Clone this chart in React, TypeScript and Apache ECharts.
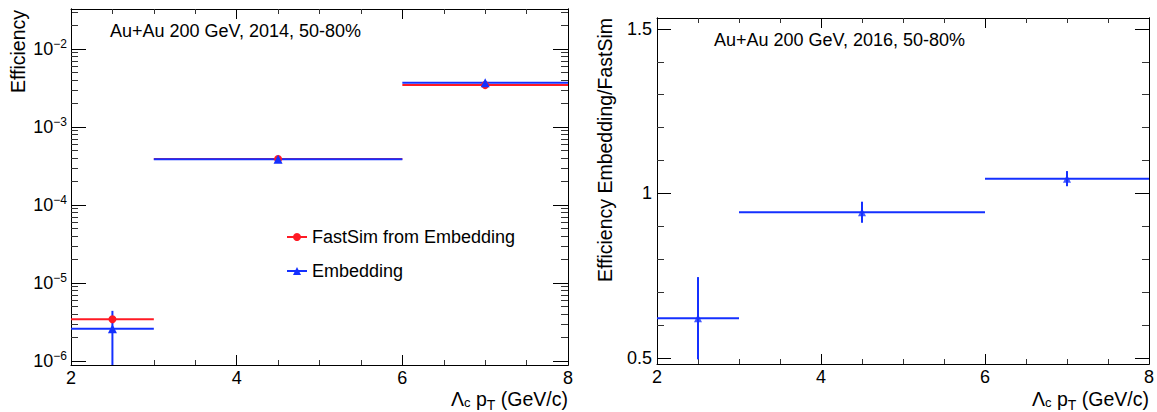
import React, { useEffect, useRef } from 'react';
import * as echarts from 'echarts';

// ---- data ----
const binLow = [2, 3, 6];
const binHigh = [3, 6, 8];
const binCenter = [2.5, 4.5, 7];
const fastSim = [3.43e-6, 3.9e-4, 3.45e-3];
const fastSimErr = [0.12e-6, 0.6e-5, 0.5e-4];
const embedding = [2.6e-6, 3.85e-4, 3.7e-3];
const embeddingErr = [1.8e-6, 1.5e-5, 1.0e-4];
const ratio = [0.621, 0.943, 1.045];
const ratioErr = [0.125, 0.032, 0.023];

// ---- tick values ----
const xMajor = [2, 4, 6, 8];
const leftYMajor = [1e-6, 1e-5, 1e-4, 1e-3, 1e-2];
const leftYMinor = [
  2e-6, 3e-6, 4e-6, 5e-6, 6e-6, 7e-6, 8e-6, 9e-6,
  2e-5, 3e-5, 4e-5, 5e-5, 6e-5, 7e-5, 8e-5, 9e-5,
  2e-4, 3e-4, 4e-4, 5e-4, 6e-4, 7e-4, 8e-4, 9e-4,
  2e-3, 3e-3, 4e-3, 5e-3, 6e-3, 7e-3, 8e-3, 9e-3,
  2e-2, 3e-2,
];
const rightYMajor = [0.5, 1, 1.5];
const rightYMinor = [0.6, 0.7, 0.8, 0.9, 1.1, 1.2, 1.3, 1.4];

const leftYMin = 8.9e-7;
const leftYMax = 3.26e-2;
const rightYMin = 0.482;
const rightYMax = 1.533;

const RED = '#ff1a24';
const BLUE = '#1430ff';
const FONT = '"Liberation Sans", Arial, Helvetica, sans-serif';

const supLabel = (v: number) => {
  const e = Math.round(Math.log10(v));
  return '10{s|' + (e < 0 ? '\u2212' + Math.abs(e) : String(e)) + '}';
};

function errRender(color: string) {
  return (params: any, api: any) => {
    const cs = params.coordSys;
    const lo = api.value(0);
    const hi = api.value(1);
    const c = api.value(2);
    const v = api.value(3);
    const e = api.value(4);
    const p1 = api.coord([lo, v]);
    const p2 = api.coord([hi, v]);
    const top = api.coord([c, v + e]);
    const bv = v - e;
    const bot = bv > 0 ? api.coord([c, bv]) : [top[0], cs.y + cs.height];
    const cl = (y: number) => Math.max(cs.y, Math.min(cs.y + cs.height, isFinite(y) ? y : cs.y + cs.height));
    return {
      type: 'group',
      children: [
        { type: 'line', shape: { x1: p1[0], y1: p1[1], x2: p2[0], y2: p2[1] }, style: { stroke: color, lineWidth: 2 } },
        { type: 'line', shape: { x1: top[0], y1: cl(top[1]), x2: top[0], y2: cl(bot[1]) }, style: { stroke: color, lineWidth: 2 } },
      ],
    };
  };
}

const errData = (vals: number[], errs: number[]) =>
  vals.map((v, i) => [binLow[i], binHigh[i], binCenter[i], v, errs[i]]);
const ptData = (vals: number[]) => vals.map((v, i) => [binCenter[i], v]);

function xAxes(gridIndex: number) {
  const base = {
    type: 'value',
    gridIndex,
    min: 2,
    max: 8,
    interval: 2,
    splitLine: { show: false },
    axisLine: { show: true, onZero: false, lineStyle: { color: '#000', width: 1 } },
    axisTick: { show: true, inside: true, length: 10, lineStyle: { color: '#000' } },
    minorTick: { show: true, splitNumber: 4, length: 5, lineStyle: { color: '#333' } },
  };
  return [
    { ...base, position: 'bottom', axisLabel: { show: true, fontSize: 18, color: '#000', fontFamily: FONT, margin: 4, customValues: xMajor } },
    { ...base, position: 'top', axisLabel: { show: false } },
  ];
}

function yAxes(gridIndex: number, type: string, min: number, max: number, major: number[], minor: number[], majorLen: number, minorLen: number, label: any) {
  const common = {
    type,
    gridIndex,
    min,
    max,
    splitLine: { show: false },
    axisLine: { show: true, onZero: false, lineStyle: { color: '#000', width: 1 } },
  };
  return [
    { ...common, position: 'left', axisTick: { show: true, inside: true, length: majorLen, customValues: major, lineStyle: { color: '#000' } }, axisLabel: label },
    { ...common, position: 'left', axisTick: { show: true, inside: true, length: minorLen, customValues: minor, lineStyle: { color: '#333' } }, axisLabel: { show: false } },
    { ...common, position: 'right', axisTick: { show: true, inside: true, length: majorLen, customValues: major, lineStyle: { color: '#000' } }, axisLabel: { show: false } },
    { ...common, position: 'right', axisTick: { show: true, inside: true, length: minorLen, customValues: minor, lineStyle: { color: '#333' } }, axisLabel: { show: false } },
  ];
}

const xTitleStyle = {
  text: '\u039b{c|c} p{t|T} (GeV/c)',
  fontSize: 19.5,
  lineHeight: 20,
  fill: '#000',
  fontFamily: FONT,
  align: 'right',
  verticalAlign: 'middle',
  rich: {
    c: { fontSize: 13, lineHeight: 13, padding: [7, 0, 0, 0], fill: '#000', fontFamily: FONT },
    t: { fontSize: 14, lineHeight: 14, padding: [12, 0, 0, 0], fill: '#000', fontFamily: FONT },
  },
};

export default function App() {
  const ref = useRef<HTMLDivElement>(null);
  useEffect(() => {
    if (!ref.current) return;
    const chart = echarts.init(ref.current, null, { renderer: 'svg' });
    const option: any = {
      animation: false,
      backgroundColor: '#fff',
      textStyle: { fontFamily: FONT },
      grid: [
        { left: 71, top: 9, width: 497, height: 356 },
        { left: 657, top: 18, width: 492, height: 346 },
      ],
      xAxis: [...xAxes(0), ...xAxes(1)],
      yAxis: [
        ...yAxes(0, 'log', leftYMin, leftYMax, leftYMajor, leftYMinor, 15, 7, {
          show: true,
          customValues: leftYMajor,
          formatter: supLabel,
          fontSize: 18,
          color: '#000',
          fontFamily: FONT,
          margin: 4,
          rich: {
            s: { fontSize: 12, padding: [0, 0, 10, 0], color: '#000', fontFamily: FONT },
          },
        }),
        ...yAxes(1, 'value', rightYMin, rightYMax, rightYMajor, rightYMinor, 14, 7, {
          show: true,
          customValues: rightYMajor,
          fontSize: 18,
          color: '#000',
          fontFamily: FONT,
          margin: 5,
        }),
      ],
      legend: {
        data: ['FastSim from Embedding', 'Embedding'],
        orient: 'vertical',
        left: 281,
        top: 223,
        itemWidth: 20,
        itemHeight: 10,
        itemGap: 16,
        textStyle: { fontSize: 18, color: '#000', fontFamily: FONT },
        lineStyle: { width: 2, opacity: 1 },
      },
      series: [
        {
          name: 'FastSim from Embedding err', type: 'custom', xAxisIndex: 0, yAxisIndex: 0,
          renderItem: errRender(RED), data: errData(fastSim, fastSimErr), encode: { x: 2, y: 3 }, z: 2,
        },
        {
          name: 'Embedding err', type: 'custom', xAxisIndex: 0, yAxisIndex: 0,
          renderItem: errRender(BLUE), data: errData(embedding, embeddingErr), encode: { x: 2, y: 3 }, z: 3,
        },
        {
          name: 'FastSim from Embedding', type: 'line', xAxisIndex: 0, yAxisIndex: 0,
          data: ptData(fastSim), symbol: 'circle', symbolSize: 8, showSymbol: true,
          itemStyle: { color: RED }, lineStyle: { width: 0, opacity: 0, color: RED }, z: 4,
        },
        {
          name: 'Embedding', type: 'line', xAxisIndex: 0, yAxisIndex: 0,
          data: ptData(embedding), symbol: 'triangle', symbolSize: 9, showSymbol: true,
          itemStyle: { color: BLUE }, lineStyle: { width: 0, opacity: 0, color: BLUE }, z: 5,
        },
        {
          name: 'ratio err', type: 'custom', xAxisIndex: 2, yAxisIndex: 4,
          renderItem: errRender(BLUE), data: errData(ratio, ratioErr), encode: { x: 2, y: 3 }, z: 3,
        },
        {
          name: 'ratio', type: 'scatter', xAxisIndex: 2, yAxisIndex: 4,
          data: ptData(ratio), symbol: 'triangle', symbolSize: 8,
          itemStyle: { color: BLUE }, z: 5,
        },
      ],
      graphic: [
        { type: 'text', x: 110, y: 31, style: { text: 'Au+Au 200 GeV, 2014, 50-80%', fontSize: 18, fill: '#000', fontFamily: FONT, verticalAlign: 'middle' } },
        { type: 'text', x: 714, y: 40, style: { text: 'Au+Au 200 GeV, 2016, 50-80%', fontSize: 18, fill: '#000', fontFamily: FONT, verticalAlign: 'middle' } },
        { type: 'text', x: 18, y: 10, rotation: Math.PI / 2, style: { text: 'Efficiency', fontSize: 19.5, fill: '#000', fontFamily: FONT, align: 'right', verticalAlign: 'middle' } },
        { type: 'text', x: 605, y: 18, rotation: Math.PI / 2, style: { text: 'Efficiency Embedding/FastSim', fontSize: 19.5, fill: '#000', fontFamily: FONT, align: 'right', verticalAlign: 'middle' } },
        { type: 'text', x: 568, y: 399, style: xTitleStyle },
        { type: 'text', x: 1149, y: 399, style: xTitleStyle },
      ],
    };
    chart.setOption(option);
    return () => chart.dispose();
  }, []);
  return <div ref={ref} style={{ position: 'absolute', left: 0, top: 0, width: 1157, height: 412 }} />;
}
